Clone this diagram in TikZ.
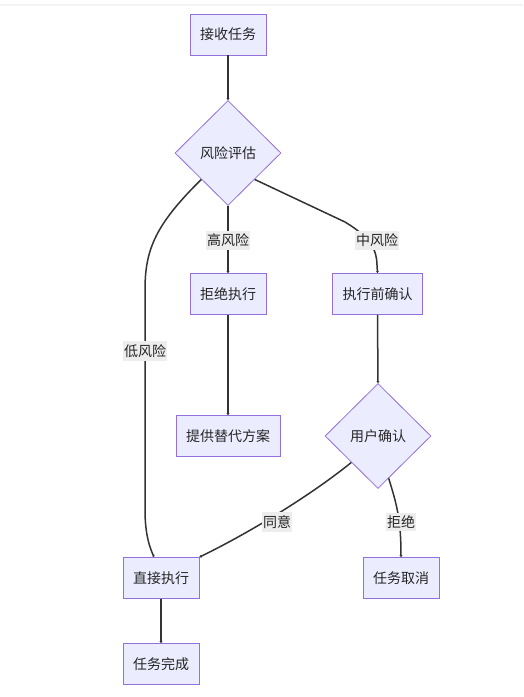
\documentclass[tikz,border=0pt]{standalone}
\usepackage{fontspec}
\newfontfamily\cjk{Noto Sans CJK SC}
\usetikzlibrary{shapes.geometric,arrows.meta,calc}
\definecolor{nodefill}{HTML}{ECECFF}
\definecolor{nodeline}{HTML}{9370DB}
\definecolor{edgecol}{HTML}{333333}
\definecolor{lblfill}{HTML}{EDEDED}
\definecolor{bandcol}{HTML}{F3F3F3}
\tikzset{
  procbox/.style={draw=nodeline, fill=nodefill, line width=0.8pt, rectangle,
    minimum height=41pt, inner xsep=10pt, inner ysep=0pt, font=\cjk\fontsize{14}{16}\selectfont, text=black!85},
  decbox/.style={draw=nodeline, fill=nodefill, line width=0.8pt, diamond, aspect=1,
    minimum width=106pt, minimum height=105pt, inner sep=0pt, font=\cjk\fontsize{14}{16}\selectfont, text=black!85},
  lbl/.style={fill=lblfill, inner xsep=1pt, inner ysep=3pt, font=\cjk\fontsize{14}{16}\selectfont, text=black!85},
  flow/.style={draw=edgecol, line width=1.5pt, -{Stealth[length=2pt,width=3pt]}},
}
\begin{document}
\begin{tikzpicture}[x=1pt,y=-1pt]
\useasboundingbox (0,0) rectangle (523,697);
\fill[white] (0,0) rectangle (523,697);
\draw[bandcol, line width=2pt] (0,5) -- (523,5);

\node[procbox] (recv) at (228,34.5) {接收任务};
\node[decbox] (risk) at (228,153) {风险评估};
\node[procbox] (refuse) at (228,294) {拒绝执行};
\node[procbox] (confirm) at (377.5,294) {执行前确认};
\node[procbox] (alt) at (228,436) {提供替代方案};
\node[decbox] (user) at (378,436) {用户确认};
\node[procbox] (direct) at (161,578) {直接执行};
\node[procbox] (cancel) at (401,578) {任务取消};
\node[procbox] (done) at (161,664) {任务完成};

\draw[flow] (recv.south) -- (risk.north);
\draw[flow] (risk.south) -- (refuse.north);
\draw[flow] (risk.south east) -- (345,222) .. controls (370,237) and (377,250) .. (377,265) -- (confirm.north);
\draw[flow] (risk.south west) .. controls (155,225) and (145,250) .. (145,290) -- (145,510) .. controls (145,535) and (150,548) .. (154,557);
\draw[flow] (refuse.south) -- (alt.north);
\draw[flow] (confirm.south) -- (user.north);
\draw[flow] (user.south west) .. controls (315,492) and (255,530) .. (direct.north east);
\draw[flow] ($(user.south)!0.2!(user.east)$) .. controls (397,505) and (401,520) .. (cancel.north);
\draw[flow] (direct.south) -- (done.north);

\node[lbl] (l1) at (228,240) {高风险};
\node[lbl] (l2) at (377,240) {中风险};
\node[lbl] (l3) at (145,351) {低风险};
\node[lbl] (l4) at (277,522) {同意};
\node[lbl] (l5) at (401,522) {拒绝};
\end{tikzpicture}
\end{document}
